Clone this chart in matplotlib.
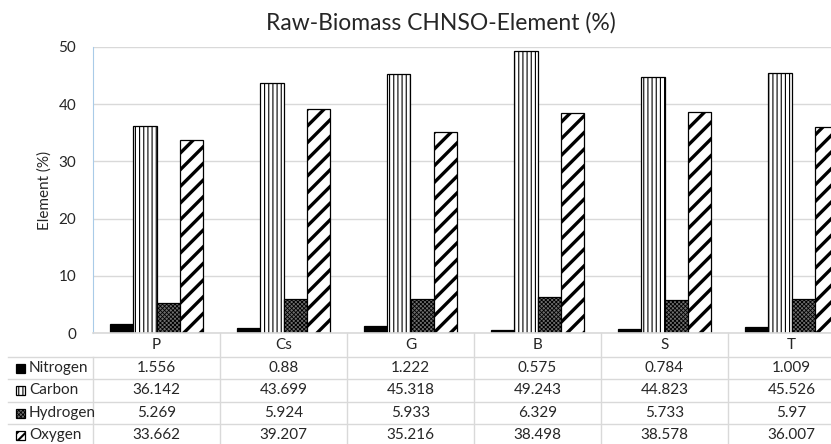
import matplotlib
matplotlib.use("Agg")
import matplotlib.pyplot as plt
import numpy as np
from matplotlib.patches import Rectangle
from matplotlib.lines import Line2D

plt.rcParams["font.family"] = ["Lato", "DejaVu Sans"]

# --- data ---
categories = ["P", "Cs", "G", "B", "S", "T"]
series_names = ["Nitrogen", "Carbon", "Hydrogen", "Oxygen"]
nitrogen = [1.556, 0.88, 1.222, 0.575, 0.784, 1.009]
carbon = [36.142, 43.699, 45.318, 49.243, 44.823, 45.526]
hydrogen = [5.269, 5.924, 5.933, 6.329, 5.733, 5.97]
oxygen = [33.662, 39.207, 35.216, 38.498, 38.578, 36.007]
table_text = [
    ["1.556", "0.88", "1.222", "0.575", "0.784", "1.009"],
    ["36.142", "43.699", "45.318", "49.243", "44.823", "45.526"],
    ["5.269", "5.924", "5.933", "6.329", "5.733", "5.97"],
    ["33.662", "39.207", "35.216", "38.498", "38.578", "36.007"],
]

# fill / hatch / hatch linewidth per series (bar, legend key)
styles = [
    dict(facecolor="black", hatch=None, key_hatch=None, hlw=1.0),
    dict(facecolor="white", hatch="||||", key_hatch="||||", hlw=0.8),
    dict(facecolor="#6e6e6e", hatch="xxxxxxxx", key_hatch="xxxxxxxx", hlw=0.6),
    dict(facecolor="white", hatch="//", key_hatch="////", hlw=2.4),
]

TXT = "#262626"
GRID = "#d9d9d9"
FS = 11

W, H = 831, 444
fig = plt.figure(figsize=(W / 100, H / 100), dpi=100)

# plot area in pixels (the chart runs past the right edge of the picture)
left_px, right_px, top_px, bot_px = 93, 855, 47, 333
ax = fig.add_axes([left_px / W, (H - bot_px) / H,
                   (right_px - left_px) / W, (bot_px - top_px) / H])

x = np.arange(len(categories))
bw = 0.182
values = [nitrogen, carbon, hydrogen, oxygen]
for i, (vals, st) in enumerate(zip(values, styles)):
    plt.rcParams["hatch.linewidth"] = st["hlw"]
    bars = ax.bar(x + (i - 1.5) * bw, vals, bw, facecolor=st["facecolor"],
                  edgecolor="black", linewidth=0.9, hatch=st["hatch"], zorder=3)
    for b in bars:
        if hasattr(b, "set_hatch_linewidth"):
            b.set_hatch_linewidth(st["hlw"])

ax.set_xlim(-0.5, len(categories) - 0.5)
ax.set_ylim(0, 50)
ax.set_yticks(range(0, 51, 10))
ax.yaxis.grid(True, color=GRID, linewidth=1, zorder=0)
ax.set_xticks([])
ax.tick_params(axis="y", length=0, pad=12, labelsize=FS, labelcolor=TXT)
for s in ["top", "right", "bottom"]:
    ax.spines[s].set_visible(False)
ax.spines["left"].set_color("#a9cbe8")
ax.set_ylabel("Element (%)", fontsize=FS, color=TXT)
ax.yaxis.set_label_coords(-41 / (right_px - left_px), 0.5)

fig.text(441 / W, 1 - 23 / H, "Raw-Biomass CHNSO-Element (%)", ha="center",
         va="center", fontsize=16.5, color=TXT)

# --- data table under the plot ---
plot_h = bot_px - top_px
def fy(px):
    # pixel row (from top of picture) -> axes fraction
    return (bot_px - px) / plot_h

row_lines = [333, 357, 379, 402, 424, 447]
row_centers = [345, 368, 390, 413, 435]

trans_x = ax.get_xaxis_transform()
for yl in row_lines[1:]:
    fig.add_artist(Line2D([8 / W, 1.0], [1 - yl / H, 1 - yl / H], color=GRID, lw=1))
ax.axhline(0, color=GRID, lw=1.2, zorder=4, clip_on=False)
for xb in np.arange(0.5, len(categories) - 0.5, 1.0):
    ax.plot([xb, xb], [0, fy(row_lines[-1])], transform=trans_x, color=GRID,
            lw=1, clip_on=False)
ax.plot([-0.5, -0.5], [fy(row_lines[1]), fy(row_lines[-1])], transform=trans_x,
        color=GRID, lw=1, clip_on=False)

for j, c in enumerate(categories):
    ax.text(j, fy(row_centers[0]), c, transform=trans_x, ha="center", va="center",
            fontsize=FS, color=TXT)
for i, row in enumerate(table_text):
    for j, t in enumerate(row):
        ax.text(j, fy(row_centers[i + 1]), t, transform=trans_x, ha="center",
                va="center", fontsize=FS, color=TXT)

# legend keys + series names in the first table column
for i, (name, st) in enumerate(zip(series_names, styles)):
    yc = row_centers[i + 1]
    plt.rcParams["hatch.linewidth"] = min(st["hlw"], 1.5)
    key = Rectangle((16 / W, 1 - (yc + 4.5) / H), 9 / W, 9 / H,
                    facecolor=st["facecolor"], edgecolor="black", lw=0.9,
                    hatch=st["key_hatch"], transform=fig.transFigure)
    if hasattr(key, "set_hatch_linewidth"):
        key.set_hatch_linewidth(min(st["hlw"], 1.5))
    fig.add_artist(key)
    fig.text(29 / W, 1 - yc / H, name, ha="left", va="center", fontsize=FS,
             color=TXT)

fig.savefig("out.png", dpi=100)
